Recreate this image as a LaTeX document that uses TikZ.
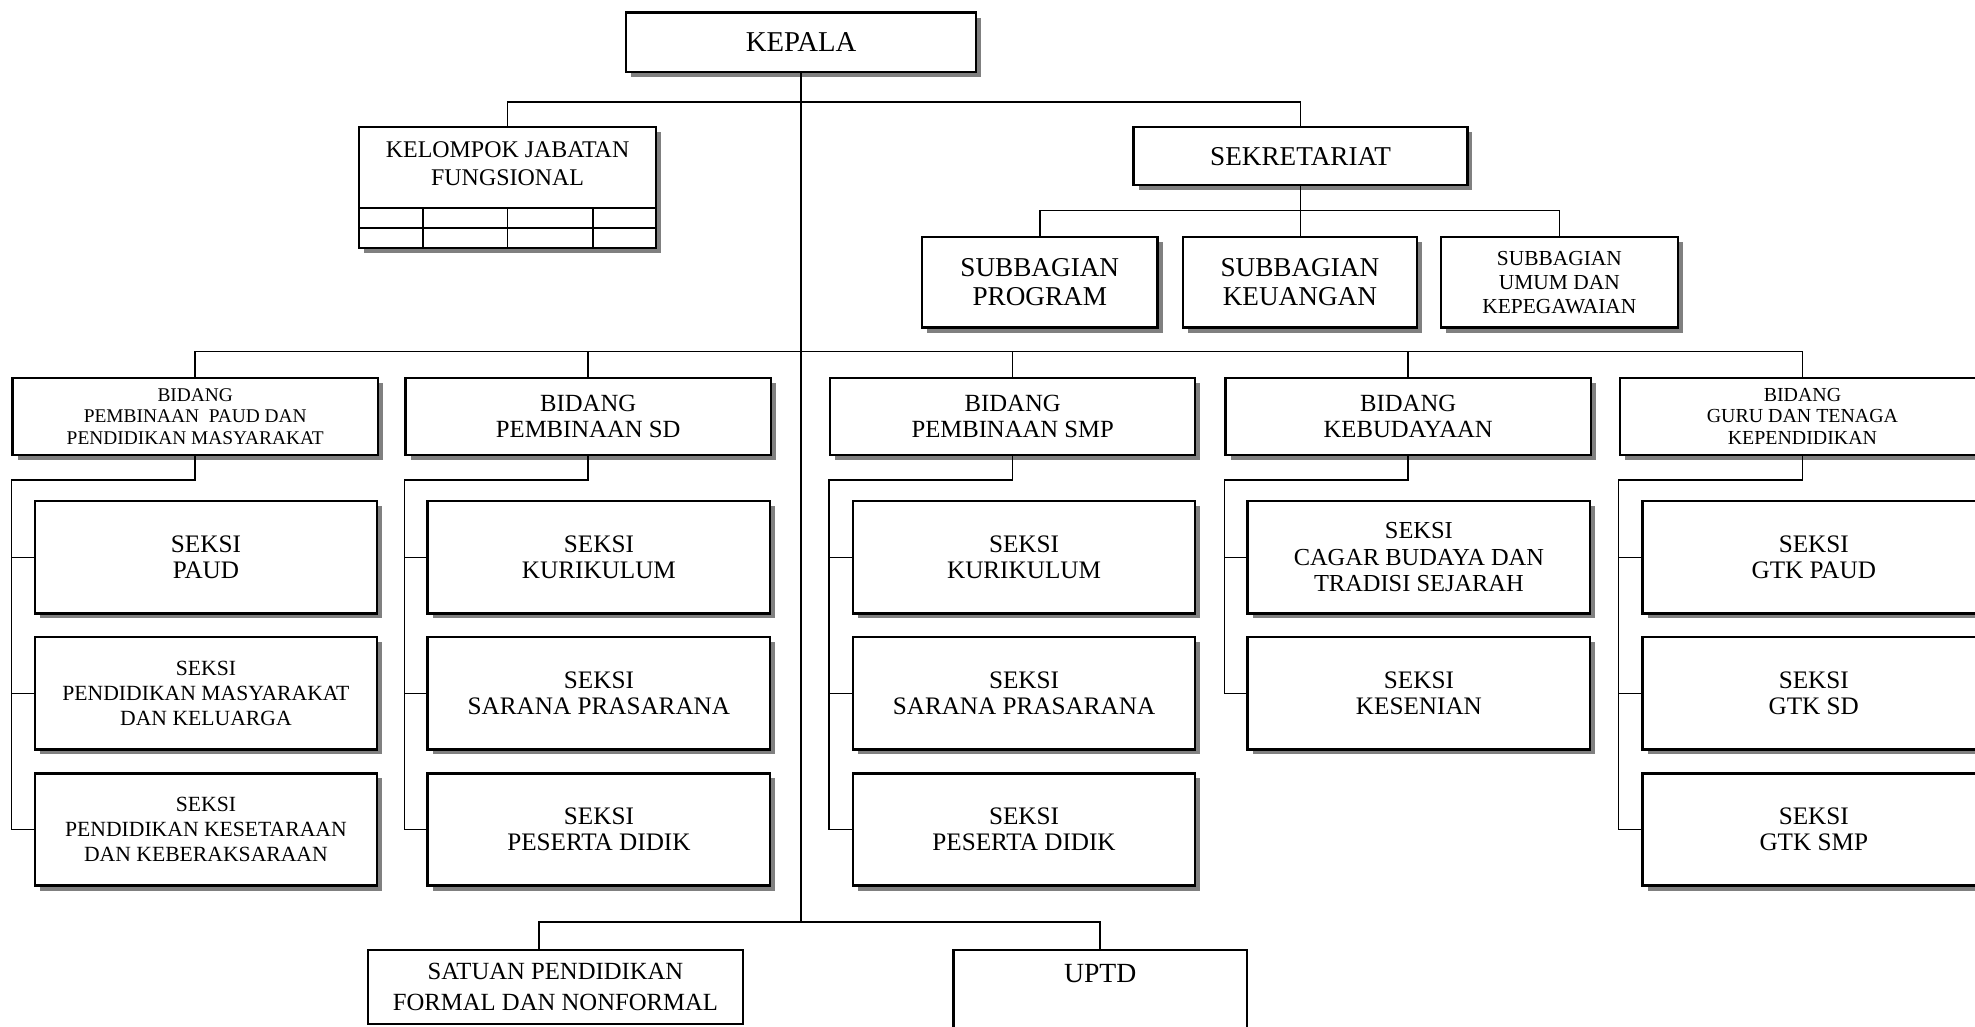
\documentclass[tikz,border=0pt]{standalone}
\usepackage{fontspec}
\setmainfont{Liberation Serif}
\usetikzlibrary{shadows}
\newcommand\myfs[2]{\fontsize{#1}{#2}\selectfont}
\begin{document}
\begin{tikzpicture}[x=0.5pt,y=-0.5pt,
  box/.style={draw, line width=0.9pt, fill=white, inner sep=0pt, align=center},
  shbox/.style={box, drop shadow={shadow xshift=2pt, shadow yshift=-2pt, fill=black!50, opacity=1}},
  wh/.style 2 args={minimum width=#1*0.5pt, minimum height=#2*0.5pt},
  conn/.style={line width=0.6pt},
  txt/.style={inner sep=0pt, align=center},
  bid/.style={shbox, wh={290}{61}},
  sek2/.style={shbox, wh={272}{89}, font=\myfs{10}{10.5}},
  sek3/.style={shbox, wh={272}{89}, font=\myfs{8.6}{9.75}}]
\useasboundingbox (0,0) rectangle (1568,815);
\clip (0,0) rectangle (1568,815);
% top
\node[shbox, wh={278}{47}, font=\myfs{11.4}{13}] (kepala) at (636,33.5) {KEPALA};
\node[shbox, wh={236}{96}] (kjf) at (403,149) {};
\node[txt, font=\myfs{9.5}{11}] (kjft) at (403,130) {KELOMPOK JABATAN\\FUNGSIONAL};
\draw[line width=0.7pt] (285,165) -- (521,165) (285,181) -- (521,181)
  (336,165) -- (336,197) (403,165) -- (403,197) (471,165) -- (471,197);
\node[shbox, wh={265}{46}, font=\myfs{10.8}{12}] (sek) at (1032.5,124) {SEKRETARIAT};
\node[shbox, wh={187}{72}, font=\myfs{10.8}{11.5}] (sp) at (825.5,224) {SUBBAGIAN\\PROGRAM};
\node[shbox, wh={186}{72}, font=\myfs{10.8}{11.5}] (sk) at (1032,224) {SUBBAGIAN\\KEUANGAN};
\node[shbox, wh={188}{72}, font=\myfs{8.5}{9.5}] (su) at (1238,224) {SUBBAGIAN\\UMUM DAN\\KEPEGAWAIAN};
% bidang
\node[bid, font=\myfs{7.7}{8.5}] (b1) at (155,330.5) {BIDANG\\PEMBINAAN\ \ PAUD DAN\\PENDIDIKAN MASYARAKAT};
\node[bid, font=\myfs{9.8}{10.5}] (b2) at (467,330.5) {BIDANG\\PEMBINAAN SD};
\node[bid, font=\myfs{9.8}{10.5}] (b3) at (804,330.5) {BIDANG\\PEMBINAAN SMP};
\node[bid, font=\myfs{9.8}{10.5}] (b4) at (1118,330.5) {BIDANG\\KEBUDAYAAN};
\node[bid, font=\myfs{7.9}{8.5}] (b5) at (1431,330.5) {BIDANG\\GURU DAN TENAGA\\KEPENDIDIKAN};
% seksi
\node[sek2] (s11) at (163.5,442.5) {SEKSI\\PAUD};
\node[sek3] (s12) at (163.5,550.5) {SEKSI\\PENDIDIKAN MASYARAKAT\\DAN KELUARGA};
\node[sek3] (s13) at (163.5,658.5) {SEKSI\\PENDIDIKAN KESETARAAN\\DAN KEBERAKSARAAN};
\node[sek2] (s21) at (475.5,442.5) {SEKSI\\KURIKULUM};
\node[sek2] (s22) at (475.5,550.5) {SEKSI\\SARANA PRASARANA};
\node[sek2] (s23) at (475.5,658.5) {SEKSI\\PESERTA DIDIK};
\node[sek2] (s31) at (813,442.5) {SEKSI\\KURIKULUM};
\node[sek2] (s32) at (813,550.5) {SEKSI\\SARANA PRASARANA};
\node[sek2] (s33) at (813,658.5) {SEKSI\\PESERTA DIDIK};
\node[sek2, font=\myfs{9.7}{10.5}] (s41) at (1126.5,442.5) {SEKSI\\CAGAR BUDAYA DAN\\TRADISI SEJARAH};
\node[sek2] (s42) at (1126.5,550.5) {SEKSI\\KESENIAN};
\node[sek2] (s51) at (1440,442.5) {SEKSI\\GTK PAUD};
\node[sek2] (s52) at (1440,550.5) {SEKSI\\GTK SD};
\node[sek2] (s53) at (1440,658.5) {SEKSI\\GTK SMP};
% bottom
\node[box, wh={298}{59}, font=\myfs{9.8}{12}] (satuan) at (441,783.5) {SATUAN PENDIDIKAN\\FORMAL DAN NONFORMAL};
\node[box, wh={233}{80}] (uptd) at (873.5,794) {};
\node[txt, font=\myfs{11}{13}] (uptdt) at (873.5,773) {UPTD};
% connectors
\coordinate (tend) at (636,733);
\draw[conn] (kepala.south) -- (tend);
\draw[conn] (kjf.north) -- ++(0,-19) -| (sek.north);
\draw[conn] (sek.south) -- (sek.south |- sk.north);
\draw[conn] (sp.north) -- ++(0,-20) -| (su.north);
\draw[conn] (b1.north) -- ++(0,-20) -| (b5.north);
\foreach \b in {b2,b3,b4} \draw[conn] (\b.north) -- ++(0,-20);
\draw[conn] (b1.south) -- ++(0,19) -| (b1.west |- s13.west) -- (s13.west);
\draw[conn] (b1.west |- s11.west) -- (s11.west) (b1.west |- s12.west) -- (s12.west);
\draw[conn] (b2.south) -- ++(0,19) -| (b2.west |- s23.west) -- (s23.west);
\draw[conn] (b2.west |- s21.west) -- (s21.west) (b2.west |- s22.west) -- (s22.west);
\draw[conn] (b3.south) -- ++(0,19) -| (b3.west |- s33.west) -- (s33.west);
\draw[conn] (b3.west |- s31.west) -- (s31.west) (b3.west |- s32.west) -- (s32.west);
\draw[conn] (b4.south) -- ++(0,19) -| (b4.west |- s42.west) -- (s42.west);
\draw[conn] (b4.west |- s41.west) -- (s41.west);
\draw[conn] (b5.south) -- ++(0,19) -| (b5.west |- s53.west) -- (s53.west);
\draw[conn] (b5.west |- s51.west) -- (s51.west) (b5.west |- s52.west) -- (s52.west);
\draw[conn] (uptd.north) -- ++(0,-21) -| ([xshift=-6.5pt]satuan.north);
\end{tikzpicture}
\end{document}
